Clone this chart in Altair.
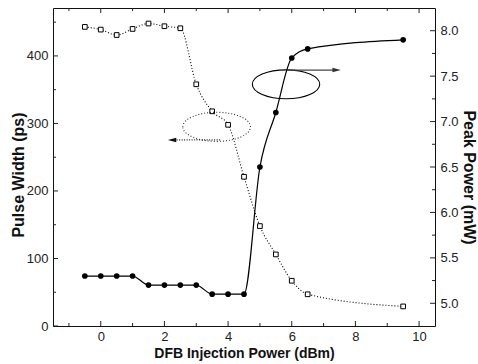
import altair as alt
import pandas as pd

# Measured series: DFB injection power (dBm) vs pulse width (ps) and peak power (mW)
injection_power = [-0.5, 0, 0.5, 1, 1.5, 2, 2.5, 3, 3.5, 4, 4.5, 5, 5.5, 6, 6.5, 9.5]
pulse_width = [443, 439, 431, 440, 448, 444, 441, 358, 318, 298, 221, 148, 106, 67, 47, 29]
peak_power = [5.3, 5.3, 5.3, 5.3, 5.2, 5.2, 5.2, 5.2, 5.1, 5.1, 5.1, 6.5, 7.1, 7.7, 7.8, 7.9]

# Tick values
x_major = [0, 2, 4, 6, 8, 10]
x_minor = [-1, 1, 3, 5, 7, 9]
pw_major = [0, 100, 200, 300, 400]
pw_minor = [50, 150, 250, 350, 450]
pp_major = [5.0, 5.5, 6.0, 6.5, 7.0, 7.5, 8.0]
pp_minor = [5.25, 5.75, 6.25, 6.75, 7.25, 7.75]

W, H = 382, 318
FONT = "Liberation Sans"

df = pd.DataFrame({"power": injection_power, "pw": pulse_width, "pp": peak_power})

x_scale = alt.Scale(domain=[-1.5, 10.5], nice=False, zero=False)
pw_scale = alt.Scale(domain=[0, 471], nice=False, zero=False)
pp_scale = alt.Scale(domain=[4.75, 8.25], nice=False, zero=False)

ELLIPSE = "M-1,0A1,0.43,0,1,1,1,0A1,0.43,0,1,1,-1,0Z"
HEAD_RIGHT = "M1,0L-1,-0.55L-1,0.55Z"
HEAD_LEFT = "M-1,0L1,-0.55L1,0.55Z"


def X(field):
    return alt.X(field, scale=x_scale)


def ticks_df(values):
    return pd.DataFrame({"t": values})


def x_ticks(values, length):
    base = alt.Chart(ticks_df(values)).mark_rule(color="#222", strokeWidth=1)
    bottom = base.encode(x=X("t:Q"), y=alt.value(H), y2=alt.value(H - length))
    top = base.encode(x=X("t:Q"), y=alt.value(0), y2=alt.value(length))
    return [bottom, top]


def y_ticks(values, length, scale, side):
    base = alt.Chart(ticks_df(values)).mark_rule(color="#222", strokeWidth=1)
    if side == "left":
        xs = dict(x=alt.value(0), x2=alt.value(length))
    else:
        xs = dict(x=alt.value(W), x2=alt.value(W - length))
    return base.encode(y=alt.Y("t:Q", scale=scale), **xs)


x_enc = alt.X(
    "power:Q", scale=x_scale,
    axis=alt.Axis(values=x_major, format="d", title="DFB Injection Power (dBm)",
                  labelPadding=4, titleX=W / 2, titleY=31.3,
                  titleBaseline="alphabetic", titleAlign="center",
                  titleFontSize=14))

# Pulse width (left axis)
pw_line = alt.Chart(df).mark_line(
    interpolate="monotone", color="black", strokeWidth=1.1, strokeDash=[1, 2]
).encode(x=x_enc, y=alt.Y("pw:Q", scale=pw_scale, axis=alt.Axis(
    values=pw_major, format="d", title="Pulse Width (ps)", labelPadding=5,
    titleX=-29.7, titleY=166.5, titleBaseline="alphabetic", titleAlign="center",
    titleFontSize=16)))

pw_points = alt.Chart(df).mark_point(
    shape="square", filled=True, fill="white", stroke="black",
    strokeWidth=1, size=22, opacity=1
).encode(x=X("power:Q"), y=alt.Y("pw:Q", scale=pw_scale))

pw_note = pd.DataFrame({"x": [3.64], "y": [295.0], "x0": [3.75], "x1": [2.3], "ya": [275.6],
                        "xh": [2.24]})
pw_ellipse = alt.Chart(pw_note).mark_point(
    shape=ELLIPSE, size=4570, filled=False, stroke="#333", strokeWidth=1.1,
    strokeDash=[1, 2], opacity=1
).encode(x=X("x:Q"), y=alt.Y("y:Q", scale=pw_scale))
pw_arrow = alt.Chart(pw_note).mark_rule(
    color="#222", strokeWidth=1.3, strokeDash=[1, 1.5]
).encode(x=X("x0:Q"), x2="x1:Q", y=alt.Y("ya:Q", scale=pw_scale))
pw_head = alt.Chart(pw_note).mark_point(
    shape=HEAD_LEFT, size=70, filled=True, color="#111", opacity=1
).encode(x=X("xh:Q"), y=alt.Y("ya:Q", scale=pw_scale))

left_group = alt.layer(
    pw_line, pw_points, pw_ellipse, pw_arrow, pw_head,
    *x_ticks(x_major, 5), *x_ticks(x_minor, 3),
    y_ticks(pw_major, 5, pw_scale, "left"), y_ticks(pw_minor, 3, pw_scale, "left"),
)

# Peak power (right axis)
pp_line = alt.Chart(df).mark_line(
    interpolate="monotone", color="black", strokeWidth=1.2
).encode(x=X("power:Q"),
         y=alt.Y("pp:Q", scale=pp_scale, axis=alt.Axis(
             orient="right", values=pp_major, format=".1f", title="Peak Power (mW)",
             labelPadding=5, titleX=28.3, titleY=169, titleBaseline="alphabetic",
             titleAlign="center", titleFontSize=16)))

pp_points = alt.Chart(df).mark_point(
    shape="circle", filled=True, color="black", size=32, opacity=1
).encode(x=X("power:Q"), y=alt.Y("pp:Q", scale=pp_scale))

pp_note = pd.DataFrame({"x": [5.82], "y": [7.41], "x0": [5.85], "x1": [7.3], "ya": [7.567],
                        "xh": [7.41]})
pp_ellipse = alt.Chart(pp_note).mark_point(
    shape=ELLIPSE, size=4540, filled=False, stroke="black", strokeWidth=1.1, opacity=1
).encode(x=X("x:Q"), y=alt.Y("y:Q", scale=pp_scale))
pp_arrow = alt.Chart(pp_note).mark_rule(color="#444", strokeWidth=1.3).encode(
    x=X("x0:Q"), x2="x1:Q", y=alt.Y("ya:Q", scale=pp_scale))
pp_head = alt.Chart(pp_note).mark_point(
    shape=HEAD_RIGHT, size=70, filled=True, color="#333", opacity=1
).encode(x=X("xh:Q"), y=alt.Y("ya:Q", scale=pp_scale))

right_group = alt.layer(
    pp_line, pp_points, pp_ellipse, pp_arrow, pp_head,
    y_ticks(pp_major, 5, pp_scale, "right"), y_ticks(pp_minor, 3, pp_scale, "right"),
)

chart = alt.layer(left_group, right_group).resolve_scale(y="independent").properties(
    width=W, height=H,
    autosize=alt.AutoSizeParams(type="none"),
    padding={"left": 53, "top": 8, "right": 43, "bottom": 38},
    background="white",
).configure_view(
    stroke="#111", strokeWidth=1
).configure_axis(
    domain=False, ticks=False, tickSize=0, grid=False,
    labelFont=FONT, labelFontSize=13, labelColor="#222",
    titleFont=FONT, titleFontWeight="bold", titleColor="#111",
)

chart.save("out.html", embed_options={"renderer": "svg", "actions": False})
